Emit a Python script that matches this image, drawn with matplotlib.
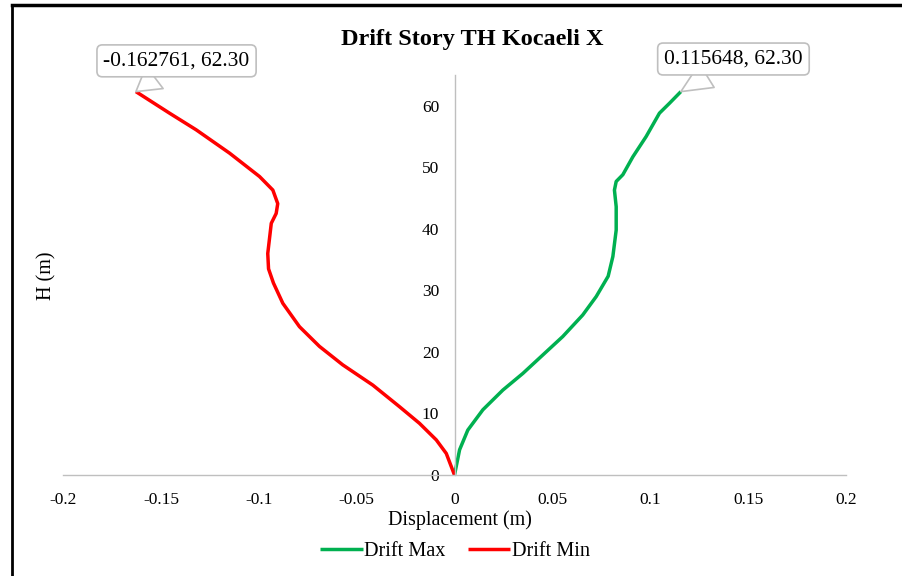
import matplotlib
matplotlib.use("Agg")
import matplotlib.pyplot as plt
from matplotlib.lines import Line2D

plt.rcParams['font.family'] = ['Liberation Serif', 'DejaVu Serif']

# Data
max_x = [0, 0.0026, 0.0068, 0.0145, 0.0247, 0.0349, 0.0451, 0.0553, 0.0655, 0.0724,
         0.0785, 0.0809, 0.0826, 0.0826, 0.0817, 0.0826, 0.0860, 0.0911, 0.0979, 0.1047,
         0.1098, 0.115648]
max_y = [0, 4.1, 7.3, 10.6, 13.8, 16.5, 19.5, 22.5, 26.0, 29.0,
         32.3, 35.5, 39.8, 43.6, 46.3, 47.7, 48.8, 51.7, 55.0, 58.8,
         60.4, 62.30]

min_x = [0, -0.0042, -0.0093, -0.0179, -0.0281, -0.0417, -0.0571, -0.0690, -0.0792, -0.0877,
         -0.0925, -0.0950, -0.0954, -0.0936, -0.0911, -0.0903, -0.0928, -0.0996, -0.1149, -0.1320,
         -0.1456, -0.162761]
min_y = [0, 3.5, 5.7, 8.4, 11.1, 14.6, 17.9, 20.9, 24.1, 27.9,
         31.2, 33.5, 36.0, 40.9, 42.5, 44.1, 46.3, 48.5, 52.3, 56.1,
         58.8, 62.30]

x_ticks = [-0.2, -0.15, -0.1, -0.05, 0, 0.05, 0.1, 0.15, 0.2]
x_tick_labels = ["-0.2", "-0.15", "-0.1", "-0.05", "0", "0.05", "0.1", "0.15", "0.2"]
y_ticks = [0, 10, 20, 30, 40, 50, 60]

W, H = 902, 576
fig = plt.figure(figsize=(W / 100, H / 100), dpi=100)
ax = fig.add_axes([63 / W, 1 - 475 / H, (846 - 63) / W, (475 - 75) / H])

ax.plot(max_x, max_y, color="#00B050", lw=2.5, label="Drift Max",
        solid_joinstyle="round", solid_capstyle="butt")
ax.plot(min_x, min_y, color="#FF0000", lw=2.5, label="Drift Min",
        solid_joinstyle="round", solid_capstyle="butt")

ax.set_xlim(-0.2, 0.2)
ax.set_ylim(0, 65)
ax.set_xticks(x_ticks)
ax.set_xticklabels(x_tick_labels)
ax.set_yticks(y_ticks)

for s in ["top", "right"]:
    ax.spines[s].set_visible(False)
ax.spines["left"].set_position(("data", 0))
ax.spines["left"].set_color("#BFBFBF")
ax.spines["bottom"].set_color("#BFBFBF")
ax.spines["left"].set_linewidth(1.0)
ax.spines["bottom"].set_linewidth(1.0)
ax.tick_params(axis="both", length=0, labelsize=12.5, colors="#000000")
ax.tick_params(axis="x", pad=12)
ax.tick_params(axis="y", pad=11)

fig.text(472 / W, 1 - 40 / H, "Drift Story TH Kocaeli X", ha="center", va="center",
         fontsize=17.5, fontweight="bold")
fig.text(460 / W, 1 - 520 / H, "Displacement (m)", ha="center", va="center", fontsize=14.4)
fig.text(47 / W, 1 - 276 / H, "H (m)", ha="center", va="center", rotation=90, fontsize=14.5)

bbox = dict(boxstyle="round,pad=0.3,rounding_size=0.25", fc="white", ec="#BFBFBF", lw=1.2)
ax.annotate("-0.162761, 62.30", xy=(min_x[-1], min_y[-1]), xytext=(-0.1420, 67.3),
            textcoords="data", ha="center", va="center", fontsize=15.5, bbox=bbox,
            annotation_clip=False,
            arrowprops=dict(arrowstyle="wedge,tail_width=1.3,shrink_factor=0.5", fc="white",
                            ec="#BFBFBF", lw=1.2, shrinkA=0, shrinkB=0))
ax.annotate("0.115648, 62.30", xy=(max_x[-1], max_y[-1]), xytext=(0.1425, 67.6),
            textcoords="data", ha="center", va="center", fontsize=15.5, bbox=bbox,
            annotation_clip=False,
            arrowprops=dict(arrowstyle="wedge,tail_width=1.3,shrink_factor=0.5", fc="white",
                            ec="#BFBFBF", lw=1.2, shrinkA=0, shrinkB=0))

fig.legend(handles=ax.get_lines(), loc="center", bbox_to_anchor=(455 / W, 1 - 551 / H),
           ncol=2, frameon=False, fontsize=14.6, handlelength=2.1, handletextpad=0.08,
           columnspacing=1.1)

# outer frame (top and left edges visible in the crop)
fig.add_artist(Line2D([12 / W, 1], [1 - 5 / H, 1 - 5 / H], color="black", lw=2.5,
                      transform=fig.transFigure))
fig.add_artist(Line2D([12 / W, 12 / W], [0, 1 - 5 / H], color="black", lw=2.0,
                      transform=fig.transFigure))

fig.savefig("out.png", dpi=100)
